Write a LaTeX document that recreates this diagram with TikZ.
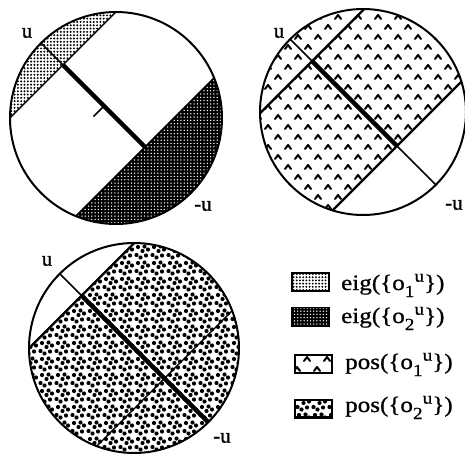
\documentclass[tikz,border=0pt]{standalone}
\usepackage{fontspec}
\setmainfont{Liberation Serif}
\newfontfamily\heavyserif[FakeBold=0.8]{Liberation Serif}

% field of small dots on a square grid: x0, y0, nx, ny, step, radius
\newcommand\dotfield[6]{%
  \foreach \i in {0,...,#3} { \fill \foreach \j in {0,...,#4} { ({#1+\i*#5},{#2+\j*#5}) circle[radius=#6] }; }}
% field of pos(o2) blobs: x0, y0, nx, ny (tile 16)
\newcommand\posfield[4]{%
  \foreach \i in {0,...,#3} { \foreach \j in {0,...,#4} {
     \fill \foreach \dx/\dy in {2.5/13,6.5/10.5,10.5/5.5,14/2.5,12/12.5,4/5,8.5/1} {
       ({#1+\i*16+\dx},{#2+\j*16+\dy}) circle[radius=2.1] }; } }}
% field of carets: x0, y0, nx, ny (tile 20 x 20)
\newcommand\caretfield[4]{%
  \foreach \i in {0,...,#3} { \draw[line width=2pt, line cap=round, line join=round] \foreach \j in {0,...,#4} {
     \foreach \dx/\dy in {2/3,12/13} {
       ({#1+\i*20+\dx},{#2+\j*20+\dy}) -- ++(3,4) -- ++(3,-4) } }; }}

\newcommand\ouLab[1]{o\raisebox{-0.32em}{\fontsize{17}{17}\selectfont #1}\raisebox{0.38em}{\fontsize{17}{17}\selectfont u}}
\newcommand\legtxt[1]{\scalebox{1.14}[1]{#1}}

\tikzset{
  rim/.style={line width=2pt},
  chord/.style={line width=1.5pt},
  boldchord/.style={line width=2.3pt},
  axisbold/.style={line width=4.5pt},
  axisthin/.style={line width=1.6pt},
  uLabel/.style={font=\heavyserif\fontsize{21}{22}\selectfont, inner sep=0pt},
  legbox/.style={draw, line width=1.5pt, minimum width=36pt, minimum height=17pt, inner sep=0pt},
  legtext/.style={font=\heavyserif\fontsize{22}{24}\selectfont, inner sep=0pt, anchor=base west}
}

\begin{document}
\begin{tikzpicture}[x=1pt,y=1pt]
\useasboundingbox (0,0) rectangle (465,-454);

% ---------- circle 1 ----------
\begin{scope}[shift={(116,-118)}, rotate=135]
  \def\rad{106}
  \pgfmathsetmacro\thA{acos(75/106)}
  \pgfmathsetmacro\phB{acos(-41/106)}
  \pgfmathsetmacro\phC{360-\phB}
  \begin{scope}
    \clip (-\thA:\rad) arc[start angle=-\thA, end angle=\thA, radius=\rad] -- cycle;
    \begin{scope}[rotate=-135]
      \dotfield{-108}{-3}{34}{34}{3.3}{1.1}
    \end{scope}
  \end{scope}
  \begin{scope}
    \clip (\phB:\rad) arc[start angle=\phB, end angle=\phC, radius=\rad] -- cycle;
    \fill[black] (-\rad,-\rad) rectangle (\rad,\rad);
    \begin{scope}[rotate=-135, white]
      \dotfield{-44}{-108}{47}{46}{3.3}{0.75}
    \end{scope}
  \end{scope}
  \draw[chord] (-\thA:\rad) -- (\thA:\rad);
  \draw[chord] (\phB:\rad) -- (-\phB:\rad);
  \draw[axisthin] (\rad,0) -- (75,0);
  \draw[axisbold] (75,0) -- (-41,0);
  \draw[chord] (17,1) -- (17,15);
  \draw[rim] (0,0) circle[radius=\rad];
\end{scope}

% ---------- circle 2 ----------
\begin{scope}[shift={(363,-112)}, rotate=135]
  \def\rad{103}
  \pgfmathsetmacro\thA{acos(72/103)}
  \pgfmathsetmacro\phB{acos(-48/103)}
  \begin{scope}
    \clip (-\phB:\rad) arc[start angle=-\phB, end angle=\phB, radius=\rad] -- cycle;
    \begin{scope}[rotate=-135]
      \caretfield{-110}{-110}{11}{11}
    \end{scope}
  \end{scope}
  \draw[boldchord] (-\thA:\rad) -- (\thA:\rad);
  \draw[boldchord] (\phB:\rad) -- (-\phB:\rad);
  \draw[axisthin] (\rad,0) -- (72,0);
  \draw[axisbold] (72,0) -- (-48,0);
  \draw[axisthin] (-48,0) -- (-\rad,0);
  \draw[rim] (0,0) circle[radius=\rad];
\end{scope}

% ---------- circle 3 ----------
\begin{scope}[shift={(134,-348)}, rotate=135]
  \def\rad{105}
  \pgfmathsetmacro\thA{acos(74/105)}
  \pgfmathsetmacro\thC{360-\thA}
  \pgfmathsetmacro\phB{acos(-43/105)}
  \begin{scope}
    \clip (\thA:\rad) arc[start angle=\thA, end angle=\thC, radius=\rad] -- cycle;
    \begin{scope}[rotate=-135]
      \posfield{-112}{-112}{14}{14}
    \end{scope}
  \end{scope}
  \draw[boldchord] (-\thA:\rad) -- (\thA:\rad);
  \draw[chord] (\phB:\rad) -- (-\phB:\rad);
  \draw[axisthin] (\rad,0) -- (74,0);
  \draw[axisbold] (74,0) -- (-\rad,0);
  \draw[rim] (0,0) circle[radius=\rad];
\end{scope}

% ---------- labels ----------
\node[uLabel] (u1) at (27,-33) {u};
\node[uLabel] (mu1) at (203,-206) {-u};
\node[uLabel] (u2) at (279,-33) {u};
\node[uLabel] (mu2) at (454,-205) {-u};
\node[uLabel] (u3) at (47,-261) {u};
\node[uLabel] (mu3) at (222,-438) {-u};

% ---------- legend ----------
\node[legbox] (k1) at (310.5,-282) {};
\node[legbox, fill=black] (k2) at (310.5,-316.5) {};
\node[legbox] (k3) at (313.5,-364) {};
\node[legbox] (k4) at (313.5,-408.5) {};

\begin{scope}
  \clip (k1.south west) rectangle (k1.north east);
  \dotfield{293.5}{-290}{11}{5}{3.2}{1.05}
\end{scope}
\begin{scope}[white]
  \clip (k2.south west) rectangle (k2.north east);
  \dotfield{294.5}{-324}{11}{5}{3.2}{0.75}
\end{scope}
\begin{scope}
  \clip (k3.south west) rectangle (k3.north east);
  \caretfield{292}{-374}{2}{1}
\end{scope}
\begin{scope}
  \clip (k4.south west) rectangle (k4.north east);
  \posfield{295}{-420}{2}{1}
\end{scope}
\foreach \k in {k1,k2,k3,k4} \draw[line width=1.5pt] (\k.south west) rectangle (\k.north east);

\node[legtext] (t1) at (341,-290) {\legtxt{eig(\{\ouLab{1}\})}};
\node[legtext] (t2) at (341,-323) {\legtxt{eig(\{\ouLab{2}\})}};
\node[legtext] (t3) at (345,-369) {\legtxt{pos(\{\ouLab{1}\})}};
\node[legtext] (t4) at (345,-412) {\legtxt{pos(\{\ouLab{2}\})}};
\end{tikzpicture}
\end{document}
